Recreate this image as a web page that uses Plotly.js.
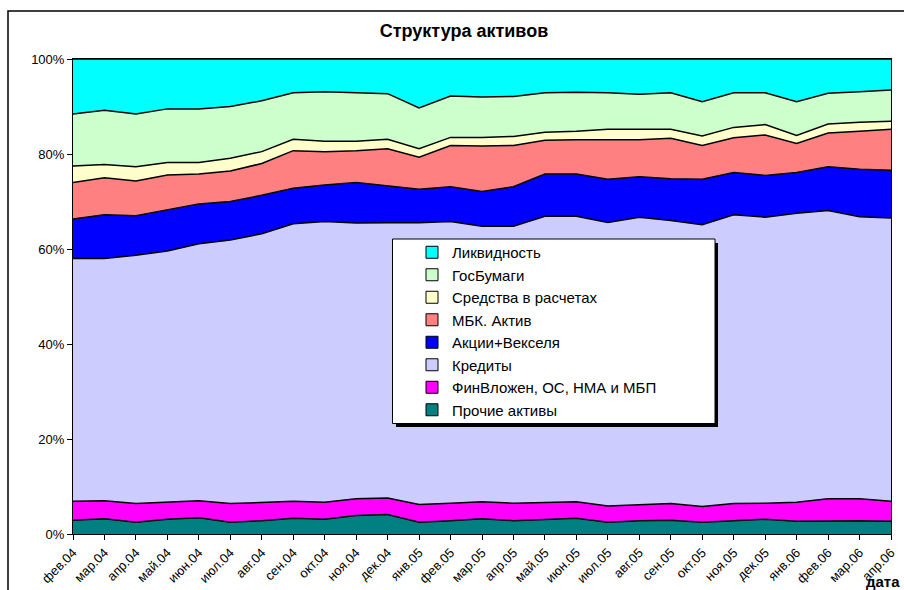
<!DOCTYPE html>
<html>
<head>
<meta charset="utf-8">
<script src="https://cdn.plot.ly/plotly-3.0.1.min.js"></script>
<style>
html,body{margin:0;padding:0;background:#fff;}
#chart{width:904px;height:590px;}
</style>
</head>
<body>
<div id="chart"></div>
<script>
const months = ["фев.04","мар.04","апр.04","май.04","июн.04","июл.04","авг.04","сен.04","окт.04","ноя.04","дек.04","янв.05","фев.05","мар.05","апр.05","май.05","июн.05","июл.05","авг.05","сен.05","окт.05","ноя.05","дек.05","янв.06","фев.06","мар.06","апр.06"];

const prochie   = [2.9,3.2,2.5,3.1,3.4,2.5,2.8,3.3,3.1,3.9,4.1,2.5,2.8,3.2,2.8,3.1,3.3,2.5,2.8,2.9,2.5,2.8,3.1,2.7,2.8,2.8,2.7];
const finVlozh  = [4.0,3.8,3.9,3.6,3.6,3.9,3.8,3.6,3.6,3.5,3.5,3.7,3.7,3.6,3.7,3.6,3.5,3.4,3.4,3.5,3.3,3.6,3.4,4.0,4.6,4.6,4.2];
const kredity   = [51.1,51.0,52.3,52.9,54.1,55.5,56.6,58.4,59.1,58.1,57.9,59.3,59.3,58.0,58.3,60.2,60.1,59.7,60.5,59.6,59.3,60.8,60.2,60.8,60.7,59.4,59.6];
const akcii     = [8.3,9.2,8.3,8.7,8.4,8.1,8.1,7.5,7.7,8.5,7.8,7.1,7.3,7.3,8.3,8.9,8.9,9.1,8.5,8.8,9.6,8.9,8.8,8.6,9.2,10.0,10.1];
const mbk       = [7.7,7.8,7.3,7.3,6.3,6.4,6.7,7.9,7.0,6.7,7.8,6.7,8.7,9.6,8.7,7.1,7.2,8.3,7.8,8.5,7.1,7.3,8.5,6.1,7.1,8.0,8.6];
const sredstva  = [3.5,2.8,3.0,2.6,2.4,2.7,2.5,2.4,2.2,2.0,2.0,1.8,1.7,1.8,1.9,1.7,1.8,2.2,2.2,1.9,2.0,2.2,2.2,1.7,1.9,1.9,1.7];
const gosBumagi = [10.9,11.4,11.1,11.3,11.3,10.9,10.7,9.8,10.4,10.2,9.6,8.6,8.7,8.5,8.4,8.3,8.2,7.7,7.4,7.7,7.2,7.3,6.7,7.1,6.5,6.4,6.6];
const likvid    = [11.6,10.8,11.6,10.5,10.5,10.0,8.8,7.1,6.9,7.1,7.3,10.3,7.8,8.0,7.9,7.1,7.0,7.1,7.4,7.1,9.0,7.1,7.1,9.0,7.2,6.9,6.5];

const seriesNames = ["Прочие активы","ФинВложен, ОС, НМА и МБП","Кредиты","Акции+Векселя","МБК. Актив","Средства в расчетах","ГосБумаги","Ликвидность"];
const seriesColors = ["#008080","#FF00FF","#CCCCFF","#0000FF","#FF8080","#FFFFCC","#CCFFCC","#00FFFF"];
const seriesValues = [prochie, finVlozh, kredity, akcii, mbk, sredstva, gosBumagi, likvid];

const FONT = "Liberation Sans, Arial, sans-serif";
const traces = [];
seriesValues.forEach((vals, i) => {
  traces.push({
    type: "scatter", mode: "lines", x: months, y: vals,
    stackgroup: "one", groupnorm: "percent",
    name: seriesNames[i], showlegend: false,
    line: {color: "#000", width: 1.5, shape: "linear"},
    fillcolor: seriesColors[i], hoverinfo: "skip"
  });
});
// legend entries (top to bottom)
for (let i = seriesNames.length - 1; i >= 0; i--) {
  traces.push({
    type: "scatter", mode: "markers", x: [null], y: [null],
    name: seriesNames[i], showlegend: true,
    marker: {symbol: "square", size: 12, color: seriesColors[i], line: {color: "#000", width: 1}}
  });
}

const W = 904, H = 590, L = 73, R = 13, T = 59, B = 56;
const pw = W - L - R, ph = H - T - B;
const px = v => (v - L) / pw;
const py = v => (H - B - v) / ph;

const layout = {
  width: W, height: H,
  margin: {l: L, r: R, t: T, b: B},
  paper_bgcolor: "#fff", plot_bgcolor: "#fff",
  font: {family: FONT, size: 12, color: "#000"},
  title: {text: "<b>Структура активов</b>", font: {family: FONT, size: 18, color: "#000"},
          x: 464 / W, xref: "container", y: 1 - 31 / H, yref: "container", xanchor: "center", yanchor: "middle"},
  xaxis: {type: "category", range: [0, months.length - 1], tickangle: -45,
          ticks: "outside", ticklen: 5, tickcolor: "#000", showline: true, linecolor: "#000", linewidth: 1,
          mirror: true, showgrid: false, zeroline: false, tickfont: {family: FONT, size: 13}, fixedrange: true},
  yaxis: {range: [0, 100], dtick: 20, ticksuffix: "%", ticks: "outside", ticklen: 5, tickcolor: "#000",
          showline: true, linecolor: "#000", linewidth: 1, mirror: true, showgrid: false, zeroline: false,
          tickfont: {family: FONT, size: 13}, fixedrange: true},
  showlegend: true,
  legend: {x: px(412), y: py(236), xanchor: "left", yanchor: "top", bgcolor: "rgba(0,0,0,0)", borderwidth: 0,
           traceorder: "normal", font: {family: FONT, size: 15, color: "#000"}, itemwidth: 30},
  shapes: [
    {type: "rect", xref: "paper", yref: "paper", x0: px(8), x1: px(912), y0: py(11), y1: py(600),
     line: {color: "#000", width: 1.5}, fillcolor: "rgba(0,0,0,0)", layer: "below"},
    {type: "rect", xref: "paper", yref: "paper", x0: px(396), x1: px(718), y0: py(243), y1: py(427),
     line: {width: 0}, fillcolor: "#000", layer: "above"},
    {type: "rect", xref: "paper", yref: "paper", x0: px(392.5), x1: px(715), y0: py(239), y1: py(423.5),
     line: {color: "#000", width: 1}, fillcolor: "#fff", layer: "above"}
  ],
  annotations: [
    {text: "<b>дата</b>", xref: "paper", yref: "paper", x: px(902), y: py(581), xanchor: "right", yanchor: "middle",
     showarrow: false, font: {family: FONT, size: 15, color: "#000"}}
  ]
};

Plotly.newPlot("chart", traces, layout, {displayModeBar: false, staticPlot: true});
</script>
</body>
</html>
